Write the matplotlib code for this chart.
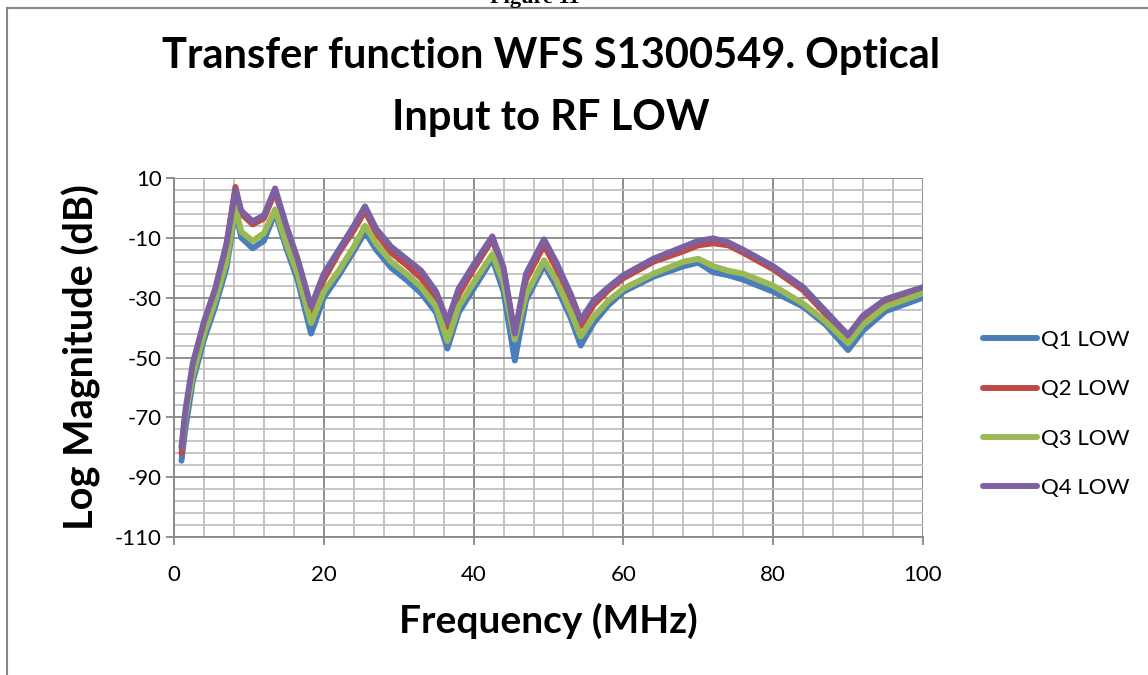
import numpy as np
import matplotlib
matplotlib.use("Agg")
import matplotlib.pyplot as plt
from matplotlib.ticker import FixedLocator
from matplotlib.lines import Line2D

plt.rcParams["axes.unicode_minus"] = False

# frequency points (MHz)
freq = [1, 1.5, 2.5, 4, 5.5, 7, 8.2, 9, 10.5, 12, 13.5, 15, 16.5, 18.3, 20, 22, 24,
        25.5, 27, 29, 31, 33, 35, 36.5, 38, 40, 42.5, 44, 45.5, 47, 49.4, 51, 53,
        54.3, 56, 58, 60, 64, 68, 70, 72, 74, 76, 80, 84, 87, 90, 92, 95, 100]

q1_low = [-84.5, -74, -58, -44, -33, -20, -1, -10, -13.5, -11, -1.5, -13.5, -24, -42,
          -30, -22.5, -14.5, -8, -14, -20, -24, -28.5, -35, -47, -35, -27, -17, -28,
          -51, -31, -19, -26, -37, -46, -38.5, -32.5, -28, -23, -19.5, -18.3, -21.5,
          -22.5, -24, -28, -33, -39, -47.5, -41, -34.5, -30]
q2_low = [-82, -70, -54, -39.5, -28, -13, 7, -2, -5.5, -3.5, 5.5, -7, -18.5, -35,
          -24, -15, -7.5, -1, -8.5, -15, -19, -23.5, -30.5, -40, -29, -20.5, -10.5, -21,
          -43, -24, -12.5, -20, -31, -39.5, -32.5, -27.5, -23.5, -18, -14.5, -12.5, -11.8,
          -12.5, -15, -20.5, -27.5, -35.5, -43.8, -37.5, -32, -27.5]
q3_low = [-80, -70, -56, -42, -31, -18, 0, -8, -11, -8.5, -0.5, -12, -22, -38.5,
          -28, -21, -13, -6, -12, -18, -22, -26.5, -33, -44.5, -33, -25, -15.5, -25,
          -44, -29, -17.5, -24, -35, -43, -36.5, -31, -27, -22, -18, -17, -19.5,
          -21, -22, -26, -32, -38, -45.3, -39, -33, -28.5]
q4_low = [-80, -68, -52, -38, -27, -12, 6, -1, -4.5, -2.5, 6.5, -6, -17, -33,
          -22, -14, -6, 0.5, -7, -13, -17, -21, -28, -38, -27, -19, -9.5, -20,
          -42, -22, -10.5, -18, -29, -37.5, -31, -26.5, -22.5, -17, -13, -11, -10.2,
          -11.5, -14, -19.5, -26.5, -34.5, -42.5, -36, -30.5, -26.5]

names = ["Q1 LOW", "Q2 LOW", "Q3 LOW", "Q4 LOW"]
colors = ["#4a7ebb", "#be4b48", "#98b954", "#7d60a0"]
y_ticks = [-110, -90, -70, -50, -30, -10, 10]
x_ticks = [0, 20, 40, 60, 80, 100]

fig = plt.figure(figsize=(11.48, 6.75), dpi=100)
ax = fig.add_axes([174/1148, 1-537/675, (923-174)/1148, (537-178)/675])

for vals, c in zip([q1_low, q2_low, q3_low, q4_low], colors):
    ax.plot(freq, vals, color=c, lw=4.3, solid_joinstyle="round", solid_capstyle="round", zorder=3)

ax.set_xlim(0, 100)
ax.set_ylim(-110, 10)
ax.xaxis.set_major_locator(FixedLocator(x_ticks))
ax.xaxis.set_minor_locator(FixedLocator(np.arange(0, 101, 4)))
ax.yaxis.set_major_locator(FixedLocator(y_ticks))
ax.yaxis.set_minor_locator(FixedLocator(np.arange(-110, 11, 4)))
ax.grid(which="minor", color="#c0c0c0", lw=1.3, zorder=1)
ax.grid(which="major", color="#878787", lw=1.3, zorder=2)
ax.set_axisbelow(True)
for s in ["top", "right"]:
    ax.spines[s].set_visible(False)
for s in ["left", "bottom"]:
    ax.spines[s].set_color("#878787")
    ax.spines[s].set_linewidth(1.3)
ax.tick_params(which="major", direction="out", length=6, width=1.3, color="#878787",
               labelsize=16)
ax.tick_params(which="minor", length=0)
ax.tick_params(axis="y", pad=3)
ax.tick_params(axis="x", pad=14)
for lab in ax.get_xticklabels() + ax.get_yticklabels():
    lab.set_family("Lato")

ax.set_xlabel("Frequency (MHz)", fontsize=28, fontweight="bold", family="Lato", labelpad=13)
ax.set_ylabel("Log Magnitude (dB)", fontsize=28.5, fontweight="bold", family="Lato", labelpad=10)

fig.text(551/1148, 1-87/675, "Transfer function WFS S1300549. Optical\nInput to RF LOW",
         ha="center", va="center", fontsize=30, fontweight="bold", family="Lato",
         linespacing=1.75)

handles = [Line2D([0], [0], color=c, lw=4.3, solid_capstyle="round") for c in colors]
fig.legend(handles, names, loc="center left", bbox_to_anchor=(983/1148, 1-414/675),
           frameon=False, prop={"family": "Lato", "size": 16}, borderpad=0,
           borderaxespad=0, handlelength=2.45, handletextpad=0.15, labelspacing=1.32)

# chart frame and cut-off caption above it
fig.add_artist(Line2D([7/1148, 7/1148], [0, 1-8/675], color="#888888", lw=1.5))
fig.add_artist(Line2D([7/1148, 1], [1-8/675, 1-8/675], color="#888888", lw=1.5))
fig.text(535/1148, 1-3/675, "Figure 11", ha="center", va="baseline", fontsize=16,
         fontweight="bold", family="Liberation Serif")

fig.savefig("out.png", dpi=100)
